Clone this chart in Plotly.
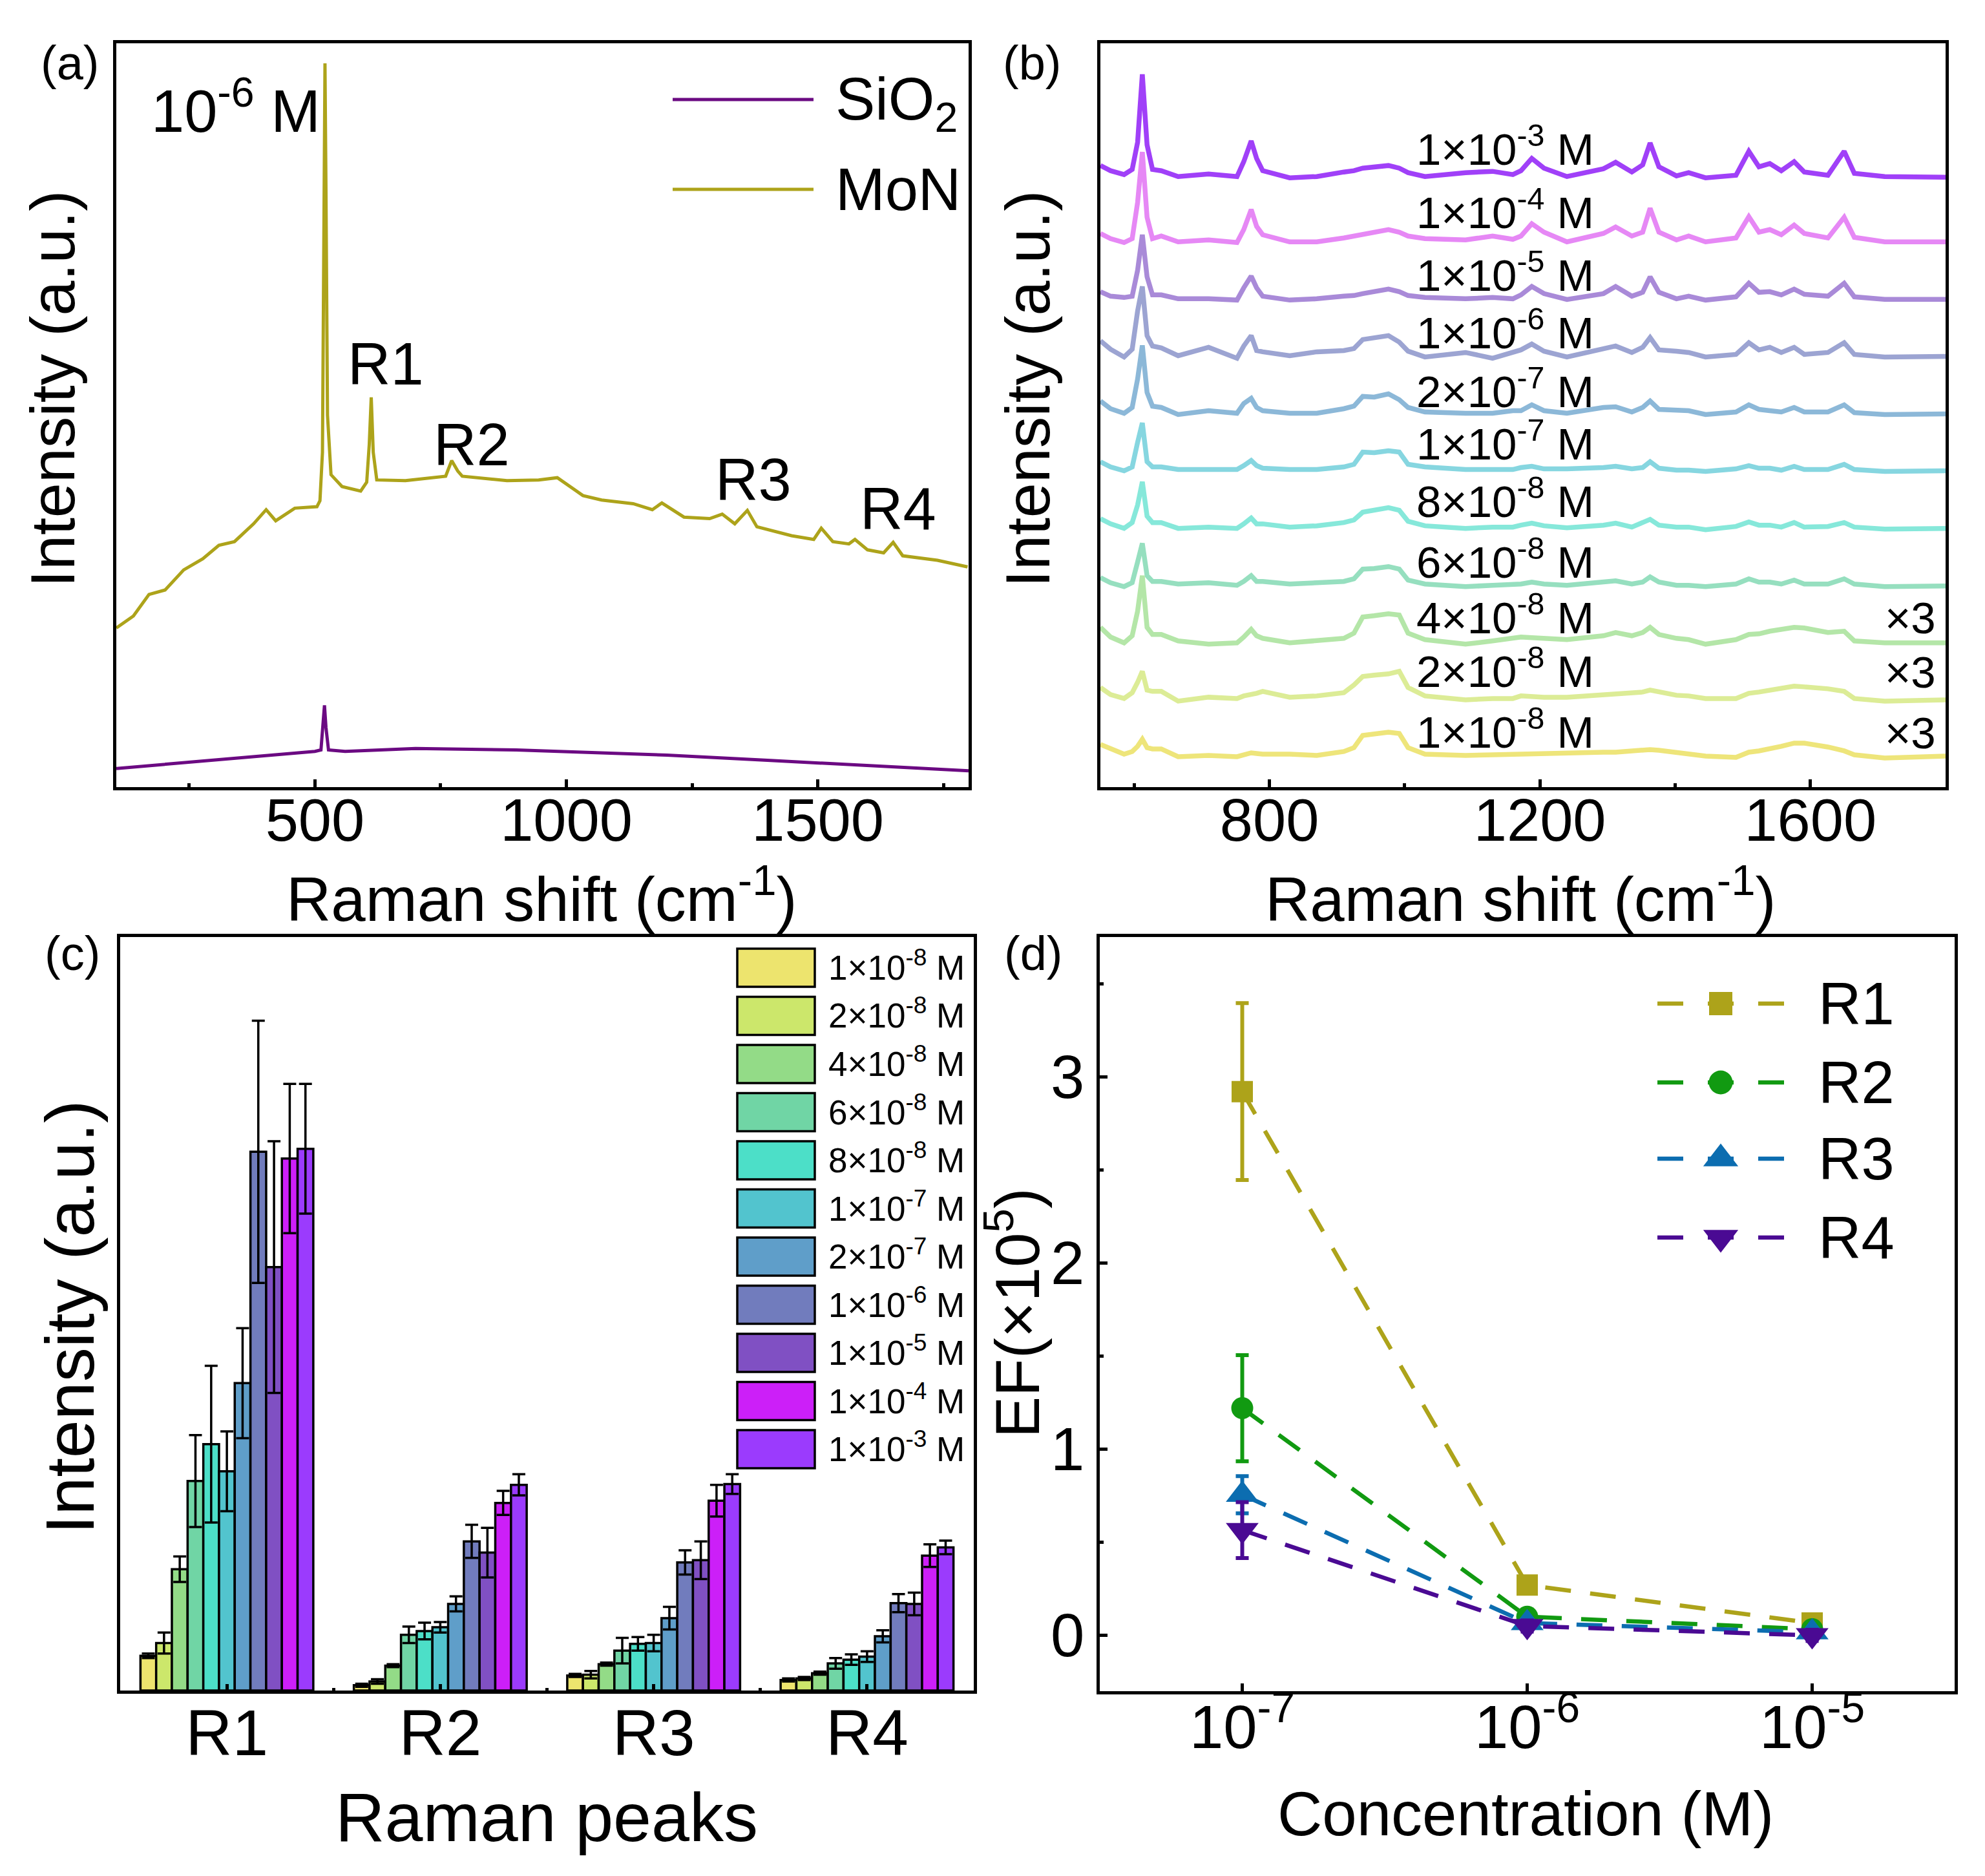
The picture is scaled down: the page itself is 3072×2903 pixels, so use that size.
import plotly.graph_objects as go

# ======================= DATA =======================
# ---- (a) Raman spectra of 1e-6 M probe on SiO2 and MoN ----
sio2_shift = [105, 300, 500, 512, 516, 519, 522, 527, 560, 700, 900, 1000, 1200, 1400, 1600, 1800]
sio2_int = [2.5, 3.6, 4.8, 5.0, 8.0, 11.0, 8.0, 5.0, 4.8, 5.2, 5.0, 4.8, 4.3, 3.6, 2.9, 2.2]

mon_shift = [105, 139, 170, 202, 239, 277, 309, 340, 378, 403, 422, 460, 504, 510, 515, 518, 520, 522, 525, 532,
             554, 591, 603, 608, 612, 616, 623, 680, 730, 760, 772, 784, 793, 882, 945, 982, 1033, 1070, 1133, 1171,
             1190, 1234, 1285, 1310, 1335, 1360, 1379, 1448, 1492, 1507, 1530, 1562, 1574, 1599, 1631, 1650, 1669,
             1738, 1798]
mon_int = [21.4, 23.0, 25.9, 26.5, 29.2, 30.7, 32.5, 33.0, 35.4, 37.3, 35.8, 37.5, 37.7, 38.5, 45.0, 80.0, 97.3,
           80.0, 50.0, 42.0, 40.4, 39.8, 41.0, 46.0, 52.4, 45.0, 41.3, 41.2, 41.6, 41.8, 43.9, 42.5, 41.8, 41.2,
           41.3, 41.6, 39.2, 38.6, 38.1, 37.3, 38.2, 36.3, 36.1, 36.7, 35.4, 37.2, 35.0, 33.8, 33.3, 34.8, 33.0,
           32.7, 33.3, 31.9, 31.5, 32.9, 31.1, 30.5, 29.6]
a_peak_labels = ["R1", "R2", "R3", "R4"]

# ---- (b) concentration series on MoN (intensity above each trace's baseline) ----
b_shift = [550, 565, 585, 597, 605, 612, 619, 627, 640, 665, 710, 752, 762, 773, 781, 790, 830, 870, 910, 925,
           938, 955, 976, 992, 1005, 1030, 1090, 1130, 1160, 1172, 1188, 1206, 1240, 1294, 1312, 1336, 1352, 1363,
           1376, 1402, 1420, 1445, 1490, 1509, 1524, 1540, 1557, 1576, 1591, 1626, 1650, 1665, 1710, 1800]
spec_1e3 = [18, 10, 4, 12, 54, 159, 50, 12, 10, 1, 5, 1, 24, 56, 29, 10, -1, 1, 8, 10, 14, 15, 18, 14, 7, 1, 7, 9,
            4, 10, 29, 14, 1, 13, 23, 8, 19, 53, 16, 2, 7, -1, 3, 40, 16, 21, 10, 24, 8, 3, 40, 6, 1, 0]
spec_1e4 = [13, 5, -1, 5, 61, 139, 38, 5, 9, 0, 3, -1, 19, 50, 24, 11, 0, 0, 6, 9, 13, 16, 19, 15, 9, 5, 3, 9, 4,
            9, 28, 15, 0, 13, 23, 9, 15, 52, 15, 3, 9, 0, 6, 39, 15, 19, 11, 26, 13, 6, 38, 7, 0, 0]
spec_1e5 = [12, 5, 3, 5, 45, 100, 35, 7, 7, 1, 1, -1, 18, 36, 18, 5, -1, 1, 5, 6, 9, 12, 16, 12, 6, 3, 1, 3, 1, 7,
            20, 9, 0, 9, 20, 5, 11, 35, 11, 1, 5, -1, 4, 25, 11, 12, 7, 16, 8, 5, 25, 4, 0, 0]
spec_1e6 = [24, 11, -1, 11, 70, 108, 32, 16, 13, 1, 14, -3, 16, 32, 9, 7, 1, 7, 9, 12, 26, 28, 32, 22, 8, -1, 6,
            -3, 7, 10, 19, 8, -1, 12, 16, 6, 14, 29, 10, 8, 6, -1, 3, 21, 10, 14, 6, 14, 3, 6, 21, 3, -1, 0]
spec_2e7 = [20, 8, 1, 10, 54, 106, 33, 12, 10, -1, 5, 1, 16, 24, 10, 5, 1, 1, 8, 12, 27, 26, 31, 22, 10, 3, 1, 1,
            5, 5, 14, 5, 1, 10, 11, 3, 10, 20, 7, 5, 5, -1, 3, 14, 7, 5, 3, 10, 3, 3, 14, 2, -1, 0]
spec_1e7 = [14, 6, 0, 6, 44, 74, 14, 6, 6, 2, 2, 2, 8, 16, 8, 4, 2, 2, 6, 10, 29, 28, 31, 29, 10, 6, 2, 2, 2, 5,
            7, 3, 3, 5, 7, 3, 5, 14, 4, 1, 1, -1, 3, 8, 4, 4, 1, 7, 2, 2, 10, 2, -1, 0]
spec_8e8 = [15, 7, 0, 9, 36, 72, 19, 9, 9, 0, 2, 0, 7, 16, 7, 7, 2, 4, 9, 13, 25, 28, 32, 28, 11, 4, 0, 2, 2, 5,
            8, 4, 1, 5, 8, 2, 8, 14, 5, 2, 2, -2, 3, 10, 5, 5, 2, 9, 2, 3, 9, 2, -1, 0]
spec_6e8 = [13, 5, -1, 5, 37, 66, 16, 7, 7, 3, 5, 1, 7, 16, 7, 7, 3, 5, 7, 11, 26, 27, 30, 26, 9, 3, -1, 1, 3, 3,
            6, 3, 1, 6, 8, 3, 6, 14, 6, 1, 1, -1, 3, 11, 6, 6, 3, 9, 3, 3, 11, 3, -1, 0]
spec_4e8 = [24, 9, 0, 11, 49, 104, 24, 13, 13, 3, -2, 0, 9, 21, 11, 7, 0, 3, 7, 15, 40, 42, 45, 43, 15, 5, -2, 3,
            7, 9, 8, 7, 5, 11, 16, 11, 16, 24, 13, 7, 5, -2, 5, 13, 14, 18, 20, 24, 23, 16, 18, 3, 0, 0]
spec_2e8 = [19, 8, 2, 11, 27, 44, 15, 13, 13, -2, 4, 2, 6, 8, 10, 13, 4, 6, 11, 23, 36, 38, 40, 44, 19, 6, 0, 2,
            2, 6, 5, 4, 4, 8, 9, 10, 12, 15, 12, 7, 6, 2, 2, 10, 12, 15, 18, 21, 20, 17, 13, 2, -2, 0]
spec_1e8 = [18, 11, 3, 7, 15, 26, 13, 11, 11, -1, 1, -1, 2, 5, 4, 3, 3, 1, 7, 13, 32, 34, 37, 35, 13, 3, 1, 2, 3,
            2, 3, 3, 4, 6, 6, 8, 9, 10, 9, 5, 4, 0, -2, 6, 8, 11, 15, 20, 20, 14, 8, 2, -3, 0]
b_spectra = [spec_1e3, spec_1e4, spec_1e5, spec_1e6, spec_2e7, spec_1e7, spec_8e8, spec_6e8, spec_4e8, spec_2e8, spec_1e8]
b_baselines = [943, 843, 754, 666, 577, 489, 400, 311, 223, 135, 48]
b_labels = ["1×10<sup>-3</sup> M", "1×10<sup>-4</sup> M", "1×10<sup>-5</sup> M", "1×10<sup>-6</sup> M",
            "2×10<sup>-7</sup> M", "1×10<sup>-7</sup> M", "8×10<sup>-8</sup> M", "6×10<sup>-8</sup> M",
            "4×10<sup>-8</sup> M", "2×10<sup>-8</sup> M", "1×10<sup>-8</sup> M"]
b_factor = ["", "", "", "", "", "", "", "", "×3", "×3", "×3"]

# ---- (c) peak intensities vs concentration ----
peaks = ["R1", "R2", "R3", "R4"]
c_labels = ["1×10<sup>-8</sup> M", "2×10<sup>-8</sup> M", "4×10<sup>-8</sup> M", "6×10<sup>-8</sup> M",
            "8×10<sup>-8</sup> M", "1×10<sup>-7</sup> M", "2×10<sup>-7</sup> M", "1×10<sup>-6</sup> M",
            "1×10<sup>-5</sup> M", "1×10<sup>-4</sup> M", "1×10<sup>-3</sup> M"]
c_values = [
    [4.6, 0.7, 2.0, 1.4],
    [6.3, 1.2, 2.1, 1.6],
    [16.1, 3.3, 3.5, 2.3],
    [27.8, 7.4, 5.3, 3.6],
    [32.7, 7.9, 6.2, 4.1],
    [29.1, 8.4, 6.3, 4.5],
    [40.8, 11.5, 9.6, 7.2],
    [71.5, 19.8, 17.0, 11.6],
    [56.2, 18.3, 17.3, 11.5],
    [70.6, 24.9, 25.2, 17.9],
    [71.9, 27.3, 27.4, 19.0],
]
c_errors = [
    [0.3, 0.2, 0.2, 0.2],
    [1.4, 0.3, 0.5, 0.2],
    [1.7, 0.2, 0.2, 0.2],
    [6.1, 1.1, 1.7, 0.7],
    [10.4, 1.1, 0.9, 0.7],
    [5.3, 0.7, 1.1, 0.7],
    [7.3, 1.0, 1.5, 0.8],
    [17.4, 2.2, 1.6, 1.2],
    [16.7, 3.3, 2.5, 1.5],
    [9.9, 1.6, 2.1, 1.5],
    [8.6, 1.4, 1.3, 0.9],
]

# ---- (d) enhancement factor ----
d_conc = [1e-7, 1e-6, 1e-5]
d_names = ["R1", "R2", "R3", "R4"]
ef_r1 = [2.92, 0.27, 0.066]
ef_r2 = [1.22, 0.10, 0.033]
ef_r3 = [0.755, 0.066, 0.017]
ef_r4 = [0.565, 0.05, 0.0]
ef_r1_err = [0.475, 0.04, 0.02]
ef_r2_err = [0.285, 0.03, 0.01]
ef_r3_err = [0.10, 0.02, 0.01]
ef_r4_err = [0.15, 0.03, 0.03]
d_x_ticks = [1e-7, 1e-6, 1e-5]
d_x_ticktext = ["10<sup>-7</sup>", "10<sup>-6</sup>", "10<sup>-5</sup>"]

# ======================= STYLE / LAYOUT =======================
W, H = 3072, 2903
FONT = "Liberation Sans, Arial, sans-serif"


def px(x):
    return x / W


def py(y):
    return 1 - y / H


SIO2_COLOR = "#6B0A82"
MON_COLOR = "#ADA31A"
b_colors = ["#A040F8", "#E688F5", "#A98AD8", "#9CA4D2", "#8CB8D8", "#86D6E0", "#86E8DA", "#96DFBF",
            "#B4E6A8", "#DCEC96", "#EEE57A"]
c_colors = ["#EDE46E", "#CCE76B", "#93DB87", "#70D5A5", "#4CDFC8", "#52C4CE", "#5F9EC9", "#717CBD",
            "#8050C3", "#CC1FF8", "#9B3BFD"]
d_colors = ["#ADA31A", "#119A11", "#0C6DB0", "#4A0A93"]
d_symbols = ["square", "circle", "triangle-up", "triangle-down"]
d_sizes = [33, 34, 44, 44]

dom_a = ([px(180), px(1499)], [py(1218), py(67)])
dom_b = ([px(1703), px(3011)], [py(1218), py(67)])
dom_c = ([px(186), px(1507)], [py(2616), py(1450)])
dom_d = ([px(1702), px(3025)], [py(2617), py(1450)])

fig = go.Figure()

# (a)
fig.add_trace(go.Scatter(x=sio2_shift, y=sio2_int, mode="lines", line=dict(color=SIO2_COLOR, width=5),
                         xaxis="x", yaxis="y", showlegend=False))
fig.add_trace(go.Scatter(x=mon_shift, y=mon_int, mode="lines", line=dict(color=MON_COLOR, width=5),
                         xaxis="x", yaxis="y", showlegend=False))

# (b)
for spec, base, col in zip(b_spectra, b_baselines, b_colors):
    fig.add_trace(go.Scatter(x=b_shift, y=[v + base for v in spec], mode="lines",
                             line=dict(color=col, width=7.5), xaxis="x2", yaxis="y2", showlegend=False))

# (c)
peak_pos = list(range(len(peaks)))
for vals, errs, col in zip(c_values, c_errors, c_colors):
    fig.add_trace(go.Bar(x=peak_pos, y=vals,
                         error_y=dict(type="data", array=errs, color="black", thickness=3.5, width=10),
                         marker=dict(color=col, line=dict(color="black", width=3.5)),
                         xaxis="x3", yaxis="y3", showlegend=False))

# (d)
d_series = [ef_r1, ef_r2, ef_r3, ef_r4]
d_errs = [ef_r1_err, ef_r2_err, ef_r3_err, ef_r4_err]
for ys, es, col, sym, sz in zip(d_series, d_errs, d_colors, d_symbols, d_sizes):
    fig.add_trace(go.Scatter(x=d_conc, y=ys, mode="lines+markers",
                             error_y=dict(type="data", array=es, color=col, thickness=6, width=10),
                             line=dict(color=col, width=6.5, dash="40px,30px"),
                             marker=dict(symbol=sym, size=sz, color=col),
                             xaxis="x4", yaxis="y4", showlegend=False))

# (d) legend glyphs on an invisible pixel-space overlay
d_leg_y = [1553, 1675, 1793, 1915]
for ly, col, sym, sz in zip(d_leg_y, d_colors, d_symbols, d_sizes):
    fig.add_trace(go.Scatter(x=[2565, 2761], y=[ly, ly], mode="lines",
                             line=dict(color=col, width=6.5, dash="40px,38px"),
                             xaxis="x5", yaxis="y5", showlegend=False, hoverinfo="skip"))
    fig.add_trace(go.Scatter(x=[2663], y=[ly], mode="markers", marker=dict(symbol=sym, size=sz + 3, color=col),
                             xaxis="x5", yaxis="y5", showlegend=False, hoverinfo="skip"))


def axis(domain, anchor, **kw):
    d = dict(domain=domain, anchor=anchor, showline=True, linecolor="black", linewidth=5, mirror=True,
             showgrid=False, zeroline=False, ticks="inside", tickcolor="black", tickwidth=5, ticklen=12,
             tickfont=dict(family=FONT, size=92, color="black"))
    d.update(kw)
    return d


def noticks(domain, anchor, rng):
    return dict(domain=domain, anchor=anchor, range=rng, showline=True, linecolor="black", linewidth=5,
                mirror=True, showgrid=False, zeroline=False, ticks="", showticklabels=False)


minor_style = dict(ticks="inside", ticklen=6, tickwidth=5, tickcolor="black")

layout = dict(
    width=W, height=H, margin=dict(l=0, r=0, t=0, b=0),
    paper_bgcolor="white", plot_bgcolor="rgba(0,0,0,0)",
    font=dict(family=FONT, color="black"),
    barmode="group", bargap=0.19, bargroupgap=0,
    showlegend=False,
    xaxis=axis(dom_a[0], "y", range=[105, 1800], tickvals=[500, 1000, 1500], ticklabelstandoff=-32,
               minor=dict(tickvals=[250, 750, 1250, 1750], **minor_style)),
    yaxis=noticks(dom_a[1], "x", [0, 100]),
    xaxis2=axis(dom_b[0], "y2", range=[550, 1800], tickvals=[800, 1200, 1600], ticklabelstandoff=-32,
                minor=dict(tickvals=[600, 1000, 1400], **minor_style)),
    yaxis2=noticks(dom_b[1], "x2", [0, 1150]),
    xaxis3=axis(dom_c[0], "y3", range=[-0.5, 3.5], tickvals=peak_pos, ticktext=peaks, ticklen=10,
                ticklabelstandoff=-25,
                tickfont=dict(family=FONT, size=100, color="black"),
                minor=dict(tickvals=[0.5, 1.5, 2.5], ticks="inside", ticklen=4, tickwidth=5, tickcolor="black")),
    yaxis3=noticks(dom_c[1], "x3", [0, 100]),
    xaxis4=axis(dom_d[0], "y4", type="log", range=[-7.5, -4.5], tickvals=d_x_ticks, ticktext=d_x_ticktext,
                ticklabelstandoff=-30,
                tickfont=dict(family=FONT, size=94, color="black")),
    yaxis4=axis(dom_d[1], "x4", range=[-0.3, 3.75], tickvals=[0, 1, 2, 3],
                tickfont=dict(family=FONT, size=94, color="black"),
                minor=dict(tick0=0, dtick=0.5, **minor_style)),
    xaxis5=dict(domain=dom_d[0], anchor="y5", range=[1702, 3025], visible=False, fixedrange=True),
    yaxis5=dict(domain=dom_d[1], anchor="x5", range=[2617, 1450], visible=False, fixedrange=True),
)
fig.update_layout(**layout)


def ann(text, x, y, size, xanchor="center", yanchor="middle", angle=0):
    return dict(text=text, x=px(x), y=py(y), xref="paper", yref="paper", showarrow=False,
                font=dict(size=size, color="black", family=FONT), xanchor=xanchor, yanchor=yanchor,
                textangle=angle)


annotations = []
shapes = []
# panel letters
annotations += [ann("(a)", 108, 98, 74), ann("(b)", 1597, 98, 74),
                ann("(c)", 112, 1475, 74), ann("(d)", 1599, 1475, 74)]
# axis titles
annotations += [
    ann("Intensity (a.u.)", 82, 602, 97, angle=-90),
    ann("Raman shift (cm<sup>-1</sup>)", 838, 1385, 96),
    ann("Intensity (a.u.)", 1591, 602, 97, angle=-90),
    ann("Raman shift (cm<sup>-1</sup>)", 2353, 1385, 96),
    ann("Intensity (a.u.)", 108, 2038, 106, angle=-90),
    ann("Raman peaks", 846, 2812, 106),
    ann("EF(×10<sup>5</sup>)", 1568, 2032, 96, angle=-90),
    ann("Concentration (M)", 2361, 2806, 96),
]
# (a) text
annotations.append(ann("10<sup>-6</sup> M", 232, 165, 92, xanchor="left"))
for lab, (x, y) in zip(a_peak_labels, [(597, 563), (730, 688), (1166, 742), (1390, 787)]):
    annotations.append(ann(lab, x, y, 92))
for lab, col, y in zip(["SiO<sub>2</sub>", "MoN"], [SIO2_COLOR, MON_COLOR], [154, 293]):
    shapes.append(dict(type="line", xref="paper", yref="paper", x0=px(1041), x1=px(1259), y0=py(y), y1=py(y),
                       line=dict(color=col, width=5)))
    annotations.append(ann(lab, 1291, y + 6 if "sub" in lab else y, 92, xanchor="left"))
# (b) labels
b_label_y = [232, 330, 427, 516, 607, 688, 777, 871, 957, 1040, 1134]
for lab, fac, y in zip(b_labels, b_factor, b_label_y):
    annotations.append(ann(lab, 2190, y - 6, 69, xanchor="left"))
    if fac:
        annotations.append(ann(fac, 2998, y, 69, xanchor="right"))
# (c) legend
for i, (lab, col) in enumerate(zip(c_labels, c_colors)):
    cy = 1497.5 + 74.5 * i
    shapes.append(dict(type="rect", xref="paper", yref="paper", x0=px(1141), x1=px(1261),
                       y0=py(cy + 29.5), y1=py(cy - 29.5), fillcolor=col, line=dict(color="black", width=3.5)))
    annotations.append(ann(lab, 1280, cy - 4, 53, xanchor="left"))
# (d) legend text
for name, y in zip(d_names, d_leg_y):
    annotations.append(ann(name, 2812, y, 92, xanchor="left"))

fig.update_layout(annotations=annotations, shapes=shapes)

fig.write_html("out.html", config={"displayModeBar": False},
               post_script="document.body.style.margin='0px';")
